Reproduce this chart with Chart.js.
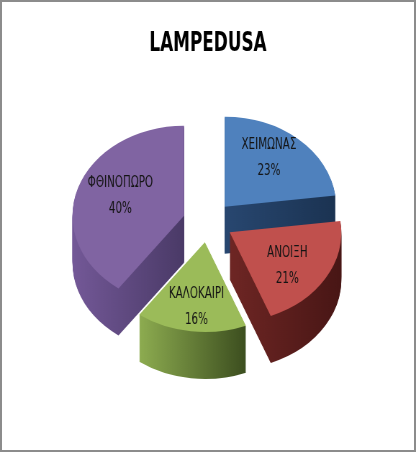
<!DOCTYPE html>
<html>
<head>
<meta charset="utf-8">
<script src="https://cdn.jsdelivr.net/npm/chart.js@4.4.1/dist/chart.umd.min.js"></script>
<style>
  html, body { margin: 0; padding: 0; background: #fff; }
  #wrap { position: relative; width: 416px; height: 452px; }
  #frame { position: absolute; left: 0; top: 0; right: 0; bottom: 0; border: 2px solid #8c8c8c; box-sizing: border-box; pointer-events: none; }
  canvas { display: block; }
</style>
</head>
<body>
<div id="wrap">
  <!-- drawn wide, shown narrow: the original picture is squeezed sideways -->
  <canvas id="pie" width="578" height="452" style="width:416px;height:452px"></canvas>
  <div id="frame"></div>
</div>
<script>
const seasons = ['ΧΕΙΜΩΝΑΣ', 'ΑΝΟΙΞΗ', 'ΚΑΛΟΚΑΙΡΙ', 'ΦΘΙΝΟΠΩΡΟ']
const shares = [23, 21, 16, 40]

const topColors = ['#4f81bd', '#c0504d', '#9bbb59', '#8064a2']
const sideShades = [
    ['#284770', '#1b3352'],
    ['#6e2624', '#481615'],
    ['#8dac50', '#3c4e1f'],
    ['#735897', '#4a3a67']
]

const TILT = 0.58      // vertical squash of the pie
const DEPTH = 47       // thickness of the slices
const CENTER_Y = 222   // where the pie top sits
const EXPLODE = 35     // how far each slice is pulled out
const RADIUS = 155

function spanX (arc) {
    let lo = arc.x, hi = arc.x
    for (let t = 0; t <= 1.0001; t += 0.05) {
        const a = arc.startAngle + (arc.endAngle - arc.startAngle) * t
        const px = arc.x + Math.cos(a) * arc.outerRadius
        lo = Math.min(lo, px)
        hi = Math.max(hi, px)
    }
    return [lo, hi]
}

// draw one slice pulled out and squashed, dropped down by `drop` pixels
function placeSlice (ctx, arc, cy, drop) {
    const mid = (arc.startAngle + arc.endAngle) / 2
    ctx.save()
    ctx.translate(0, CENTER_Y + drop)
    ctx.scale(1, TILT)
    ctx.translate(Math.cos(mid) * EXPLODE, Math.sin(mid) * EXPLODE - cy)
    arc.draw(ctx)
    ctx.restore()
}

const pie3d = {
    id: 'pie3d',
    beforeDatasetDraw () {
        return false   // everything is drawn below
    },
    afterDatasetsDraw (chart) {
        const ctx = chart.ctx
        const arcs = chart.getDatasetMeta(0).data
        const cy = arcs[0].y

        // Side walls: the same slice stacked downward in a darker shade
        arcs.forEach((arc, i) => {
            const [lo, hi] = spanX(arc)
            const grad = ctx.createLinearGradient(lo, 0, hi, 0)
            grad.addColorStop(0, sideShades[i][0])
            grad.addColorStop(1, sideShades[i][1])
            const side = Object.create(arc)
            side.options = Object.assign({}, arc.options, { backgroundColor: grad })
            for (let d = DEPTH; d > 0; d--) placeSlice(ctx, side, cy, d)
        })

        // Top faces
        arcs.forEach((arc) => placeSlice(ctx, arc, cy, 0))

        // Labels
        const total = shares.reduce((a, b) => a + b, 0)
        ctx.save()
        ctx.fillStyle = '#141414'
        ctx.font = "16px 'Liberation Sans Narrow', 'DejaVu Sans Condensed', sans-serif"
        ctx.textAlign = 'center'
        ctx.textBaseline = 'middle'
        arcs.forEach((arc, i) => {
            const mid = (arc.startAngle + arc.endAngle) / 2
            const r = arc.outerRadius * 0.6 + EXPLODE
            const x = arc.x + Math.cos(mid) * r
            const y = CENTER_Y + Math.sin(mid) * r * TILT * 1.15
            ctx.fillText(seasons[i], x, y - 13)
            ctx.fillText(Math.round(shares[i] / total * 100) + '%', x, y + 13)
        })
        ctx.restore()
    }
}

new Chart(document.getElementById('pie'), {
    type: 'pie',
    data: {
        labels: seasons,
        datasets: [{
            data: shares,
            backgroundColor: topColors,
            borderWidth: 0,
            radius: RADIUS,
            clip: false
        }]
    },
    options: {
        responsive: false,
        animation: false,
        devicePixelRatio: 1,
        layout: {
            padding: { left: 40, right: 40, top: 0, bottom: 20 }
        },
        plugins: {
            legend: { display: false },
            tooltip: { enabled: false },
            title: {
                display: true,
                text: 'LAMPEDUSA',
                color: '#000',
                font: { family: "'Liberation Sans Narrow', 'DejaVu Sans Condensed', sans-serif", size: 26, weight: 'bold' },
                padding: { top: 29, bottom: 0 }
            }
        }
    },
    plugins: [pie3d]
})
</script>
</body>
</html>
